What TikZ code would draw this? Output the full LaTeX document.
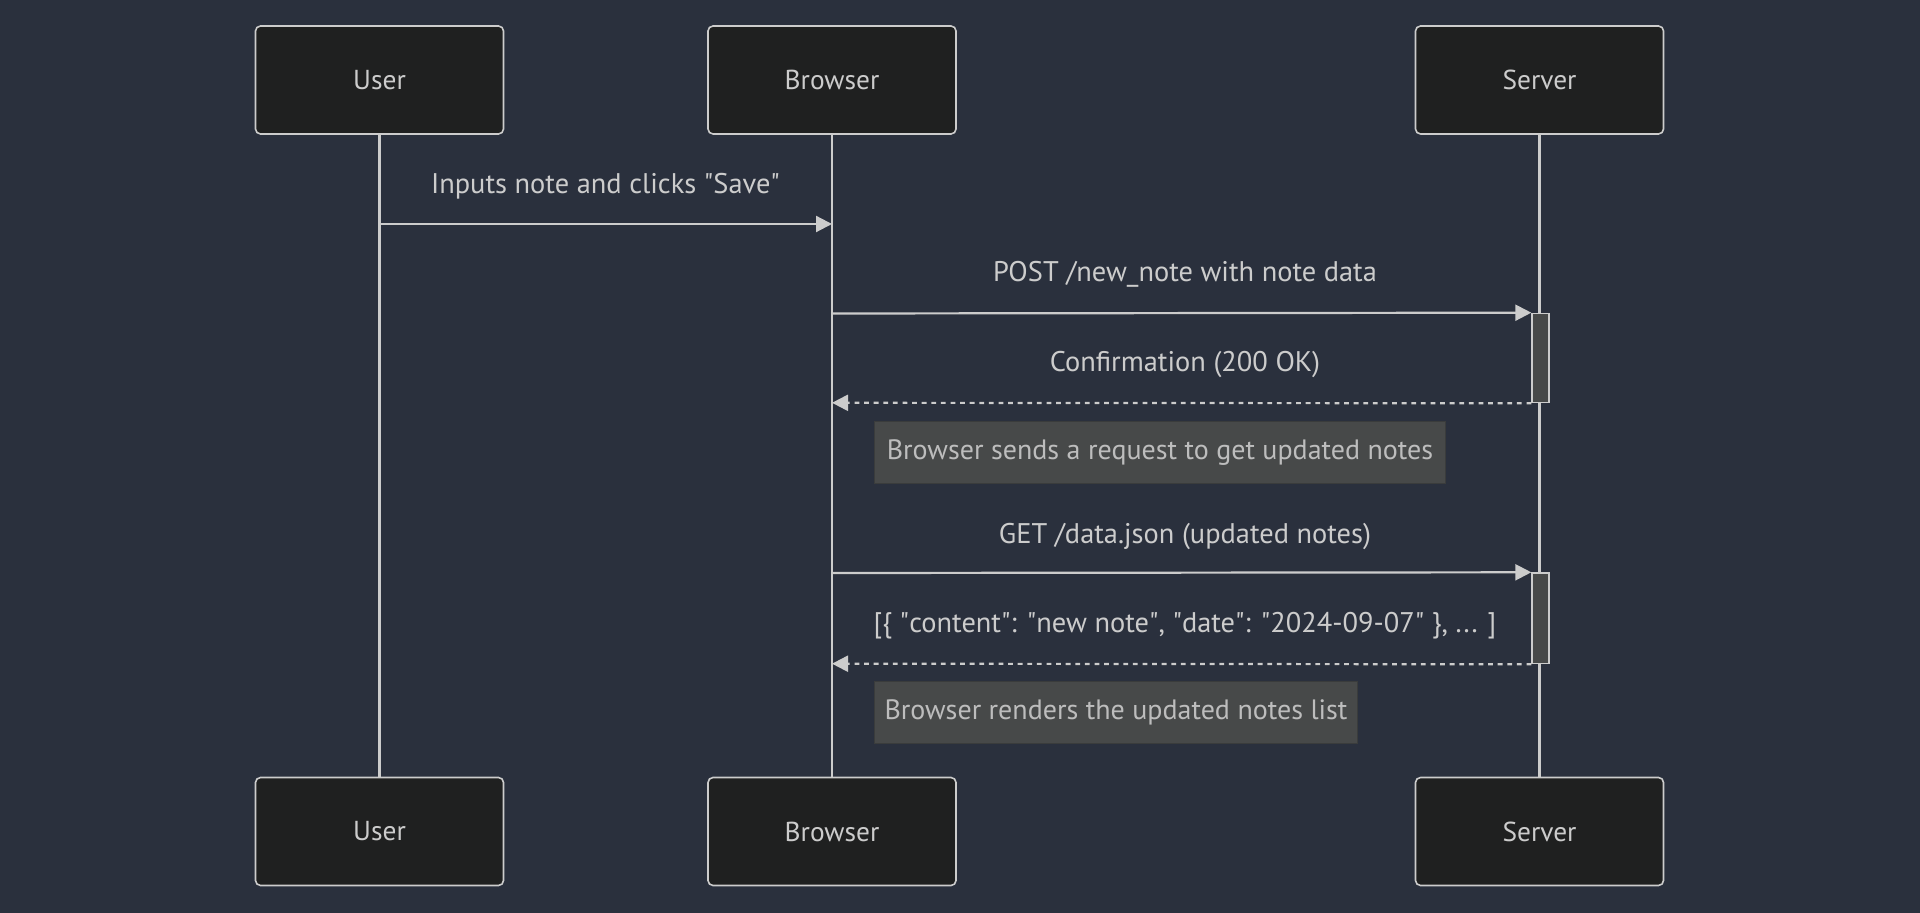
\documentclass[tikz,border=0pt]{standalone}
\usepackage{fontspec}
\setmainfont{PT Sans}
\usetikzlibrary{arrows.meta,positioning}

\definecolor{bgcol}{HTML}{2A303D}
\definecolor{actorfill}{HTML}{1F2020}
\definecolor{linecol}{HTML}{CCCCCC}
\definecolor{notefill}{HTML}{474949}
\definecolor{noteedge}{HTML}{3A3C3C}
\definecolor{notetext}{HTML}{BDBDBD}

\tikzset{
  actor/.style={draw=linecol, fill=actorfill, rounded corners=2.5pt, line width=0.8pt,
    minimum width=124pt, minimum height=54pt, text=linecol, font=\fontsize{13.7}{16}\selectfont},
  lifeline/.style={draw=linecol, line width=1.3pt},
  msg/.style={draw=linecol, line width=1.1pt, -{Triangle[length=8pt,width=8pt]}},
  reply/.style={msg, dash pattern=on 2.4pt off 2.4pt},
  msglabel/.style={text=linecol, font=\fontsize{14.2}{17}\selectfont},
  notebox/.style={fill=notefill, draw=noteedge, line width=0.5pt, text=notetext,
    anchor=west, minimum height=31pt, font=\fontsize{14}{17}\selectfont},
  activation/.style={draw=linecol, fill=notefill, line width=0.7pt, minimum width=8.5pt, inner sep=0pt}
}

\begin{document}
\begin{tikzpicture}[x=0.5pt, y=-0.5pt]
	\fill[bgcol] (0,0) rectangle (1920,913);
	\useasboundingbox (0,0) rectangle (1920,913);

	% actors
	\node[actor] (userTop) at (379.5,80) {User};
	\node[actor] (browserTop) at (832,80) {Browser};
	\node[actor] (serverTop) at (1539.5,80) {Server};
	\node[actor] (userBot) at (379.5,831.5) {User};
	\node[actor] (browserBot) at (832,831.5) {Browser};
	\node[actor] (serverBot) at (1539.5,831.5) {Server};

	% lifelines
	\draw[lifeline] (userTop) -- (userBot);
	\draw[lifeline] (browserTop) -- (browserBot);
	\draw[lifeline] (serverTop) -- (serverBot);

	% activations
	\node[activation, minimum height=44.6pt] (act1) at (1540.5,358) {};
	\node[activation, minimum height=45.3pt] (act2) at (1540.5,618.3) {};

	% messages
	\coordinate (u1) at (379.5,224);
	\coordinate (b1) at (832,224);
	\coordinate (b2) at (832,313.5);
	\coordinate (b3) at (832,402.8);
	\coordinate (b4) at (832,573);
	\coordinate (b5) at (832,663.7);
	\draw[msg] (u1) -- (b1);
	\draw[msg] (b2) -- (act1.north west);
	\draw[reply] (act1.south west) -- (b3);
	\draw[msg] (b4) -- (act2.north west);
	\draw[reply] (act2.south west) -- (b5);

	% message labels
	\node[msglabel] (l1) at (605.5,186) {Inputs note and clicks \textquotedbl Save\textquotedbl};
	\node[msglabel] (l2) at (1185,274.5) {POST /new\_note with note data};
	\node[msglabel] (l3) at (1185,365) {Confirmation (200 OK)};
	\node[msglabel] (l4) at (1185,536.5) {GET /data.json (updated notes)};
	\node[msglabel] (l5) at (1185,625.5) {[\{ \textquotedbl content\textquotedbl: \textquotedbl new note\textquotedbl, \textquotedbl date\textquotedbl: \textquotedbl 2024-09-07\textquotedbl\ \}, ... ]};

	% notes
	\node[notebox, minimum width=285.5pt] (n1) at (874,452.5) {Browser sends a request to get updated notes};
	\node[notebox, minimum width=241.5pt] (n2) at (874,712.5) {Browser renders the updated notes list};
\end{tikzpicture}
\end{document}
